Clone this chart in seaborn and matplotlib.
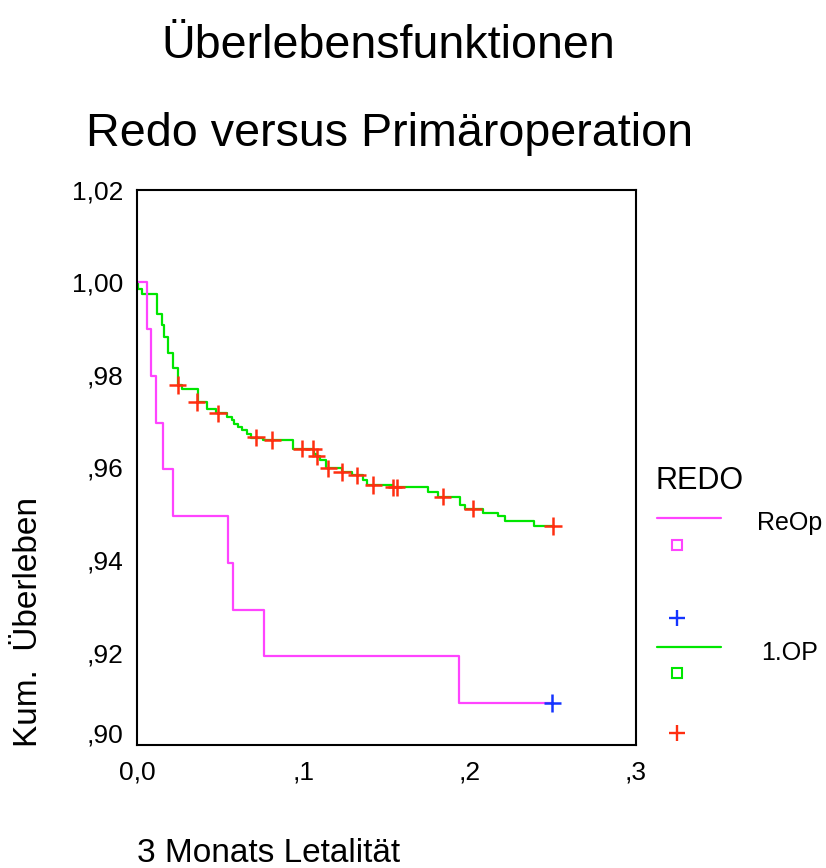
import numpy as np
import pandas as pd
import matplotlib
matplotlib.use("Agg")
import matplotlib.pyplot as plt
import matplotlib.transforms as mtransforms
import seaborn as sns

# Kaplan-Meier step functions (time in years, cumulative survival)
reop_time = [0.0, 0.0057, 0.0084, 0.0113, 0.0156, 0.0213, 0.0547, 0.0574, 0.0762, 0.1937, 0.2497]
reop_surv = [1.0, 0.9899, 0.9798, 0.9697, 0.9596, 0.9495, 0.9394, 0.9293, 0.9192, 0.9091, 0.9091]
reop_cens_time = [0.2497]
reop_cens_surv = [0.9091]

op1_time = [0.0, 0.0002, 0.0026, 0.0117, 0.0147, 0.0161, 0.0186, 0.0217, 0.0245, 0.0267,
            0.0363, 0.0417, 0.0473, 0.0538, 0.0568, 0.0582, 0.0606, 0.0630, 0.0658, 0.0684,
            0.0758, 0.0935, 0.1062, 0.1075, 0.1100, 0.1135, 0.1230, 0.1292, 0.1360, 0.1382,
            0.1540, 0.1751, 0.1811, 0.1941, 0.1971, 0.2081, 0.2172, 0.2212, 0.2386, 0.2499]
op1_surv = [1.0, 0.9985, 0.9974, 0.9932, 0.9907, 0.9882, 0.9847, 0.9814, 0.9778, 0.9769,
            0.9742, 0.9727, 0.9717, 0.9709, 0.9702, 0.9695, 0.9688, 0.9681, 0.9673, 0.9663,
            0.9659, 0.9641, 0.9630, 0.9624, 0.9616, 0.9598, 0.9590, 0.9583, 0.9573, 0.9562,
            0.9557, 0.9547, 0.9537, 0.9519, 0.9511, 0.9501, 0.9495, 0.9485, 0.9474, 0.9474]
op1_cens_time = [0.0243, 0.0357, 0.0487, 0.0714, 0.0813, 0.0989, 0.1059, 0.1079, 0.1149,
                 0.1230, 0.1320, 0.1420, 0.1540, 0.1560, 0.1837, 0.2018, 0.2499]
op1_cens_surv = [0.9778, 0.9742, 0.9717, 0.9665, 0.9659, 0.9641, 0.9641, 0.9624, 0.9598,
                 0.9590, 0.9583, 0.9562, 0.9557, 0.9557, 0.9537, 0.9511, 0.9474]

groups = ["1.OP", "ReOp"]
y_ticks = [0.90, 0.92, 0.94, 0.96, 0.98, 1.00, 1.02]
y_tick_labels = [",90", ",92", ",94", ",96", ",98", "1,00", "1,02"]
x_ticks = [0.0, 0.1, 0.2, 0.3]
x_tick_labels = ["0,0", ",1", ",2", ",3"]

MAGENTA = "#FF44FF"
GREEN = "#00E600"
RED = "#FF2E10"
BLUE = "#1434FF"

curves = pd.concat([
    pd.DataFrame({"Zeit": op1_time, "Überleben": op1_surv, "REDO": "1.OP"}),
    pd.DataFrame({"Zeit": reop_time, "Überleben": reop_surv, "REDO": "ReOp"}),
], ignore_index=True)
censored = pd.concat([
    pd.DataFrame({"Zeit": op1_cens_time, "Überleben": op1_cens_surv, "REDO": "1.OP"}),
    pd.DataFrame({"Zeit": reop_cens_time, "Überleben": reop_cens_surv, "REDO": "ReOp"}),
], ignore_index=True)

sns.set_style("white")
plt.rcParams["font.family"] = ["Liberation Sans", "DejaVu Sans"]
plt.rcParams["axes.linewidth"] = 1.5
plt.rcParams["text.color"] = "black"
plt.rcParams["axes.labelcolor"] = "black"
plt.rcParams["xtick.color"] = "black"
plt.rcParams["ytick.color"] = "black"

W, H = 826, 868
fig = plt.figure(figsize=(W / 100, H / 100), dpi=100)
ax = fig.add_axes([137.3 / W, 1 - 745.3 / H, (636 - 137.3) / W, (745.3 - 189.7) / H])

sns.lineplot(data=curves, x="Zeit", y="Überleben", hue="REDO", hue_order=groups,
             palette={"1.OP": GREEN, "ReOp": MAGENTA}, drawstyle="steps-post",
             estimator=None, sort=False, linewidth=1.6, legend=False, ax=ax)
sns.scatterplot(data=censored, x="Zeit", y="Überleben", hue="REDO", hue_order=groups,
                palette={"1.OP": RED, "ReOp": BLUE}, marker="+", s=160,
                linewidth=1.8, legend=False, ax=ax, zorder=5)

ax.set_xlim(0, 0.3)
ax.set_ylim(0.90, 1.02)
ax.set_xticks(x_ticks)
ax.set_xticklabels(x_tick_labels)
ax.set_yticks(y_ticks)
ax.set_yticklabels(y_tick_labels)
ax.tick_params(axis="both", direction="out", length=6, width=1.5, labelsize=19,
               colors="black", pad=4)
ax.tick_params(axis="x", pad=5)
ax.set_xlabel("")
ax.set_ylabel("")
for sp in ax.spines.values():
    sp.set_color("black")
    sp.set_linewidth(1.5)

# lift the lowest y label clear of the x tick labels
lowest = ax.get_yticklabels()[0]
lowest.set_transform(lowest.get_transform() +
                     mtransforms.ScaledTranslation(0, 12 / 100, fig.dpi_scale_trans))

# titles and axis captions
fig.text(388 / W, 1 - 58 / H, "Überlebensfunktionen", ha="center", va="baseline", fontsize=33.6)
fig.text(389 / W, 1 - 146 / H, "Redo versus Primäroperation", ha="center", va="baseline", fontsize=33.6)
fig.text(137 / W, 1 - 862 / H, "3 Monats Letalität", ha="left", va="baseline", fontsize=24)
fig.text(29 / W, 1 - 747 / H, "Kum.  Überleben", ha="center", va="bottom", rotation=90, fontsize=24)

# legend panel on the right
lax = fig.add_axes([0, 0, 1, 1])
lax.set_xlim(0, W)
lax.set_ylim(H, 0)
lax.axis("off")
lax.text(656, 489, "REDO", ha="left", va="baseline", fontsize=22)
lax.plot([657, 721], [518.3, 518.3], color=MAGENTA, lw=1.6)
lax.text(757, 530, "ReOp", ha="left", va="baseline", fontsize=18)
lax.plot([676.7], [545], marker="s", ms=6.5, mfc="none", mec=MAGENTA, mew=1.5)
lax.plot([676.7], [617.7], marker="+", ms=11, mec=BLUE, mew=1.7)
lax.plot([657, 721], [647.3, 647.3], color=GREEN, lw=1.6)
lax.text(761, 660, "1.OP", ha="left", va="baseline", fontsize=18)
lax.plot([676.7], [672.7], marker="s", ms=6.5, mfc="none", mec=GREEN, mew=1.5)
lax.plot([676.7], [733.3], marker="+", ms=11, mec=RED, mew=1.7)

fig.savefig("out.png", dpi=100)
